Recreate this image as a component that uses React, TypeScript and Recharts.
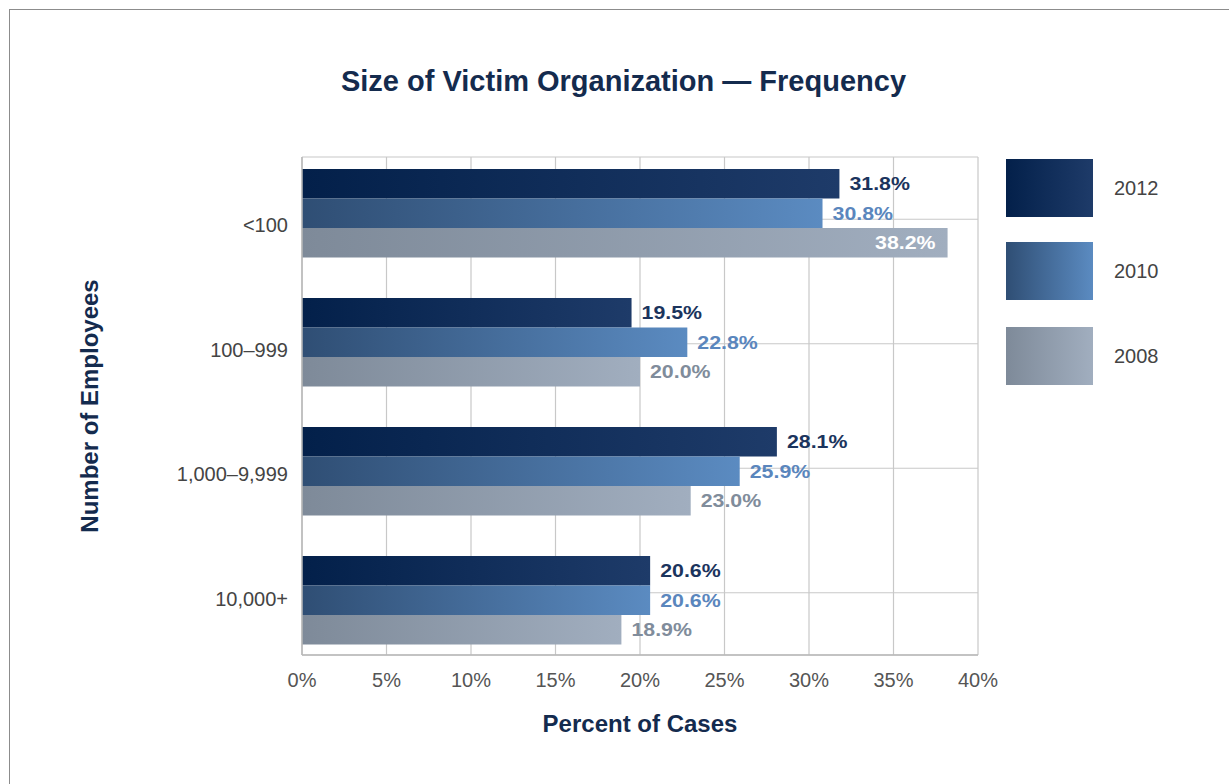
import React from 'react';
import { BarChart, Bar, XAxis, YAxis, CartesianGrid, LabelList, Legend } from 'recharts';

const categories = ['<100', '100–999', '1,000–9,999', '10,000+'];
const values2012 = [31.8, 19.5, 28.1, 20.6];
const values2010 = [30.8, 22.8, 25.9, 20.6];
const values2008 = [38.2, 20.0, 23.0, 18.9];
const xTicks = [0, 5, 10, 15, 20, 25, 30, 35, 40];

const data = categories.map((cat, i) => ({
  cat,
  y2012: values2012[i],
  y2010: values2010[i],
  y2008: values2008[i],
}));

const series = [
  { key: 'y2012', name: '2012', from: '#03204a', to: '#1e3b69', label: '#1b345d' },
  { key: 'y2010', name: '2010', from: '#2f4e74', to: '#5b8bc1', label: '#5a86bd' },
  { key: 'y2008', name: '2008', from: '#7e8a99', to: '#a1aebf', label: '#808c9b' },
];

const FONT = '"Liberation Sans", Arial, Helvetica, sans-serif';
const W = 1229;
const H = 784;
const MARGIN = { top: 157, right: 251, bottom: 0, left: 0 };
const Y_AXIS_W = 302;
const X_AXIS_H = 129;
const PLOT_RIGHT = W - MARGIN.right;

const makeLabel = (color: string) => (props: any) => {
  const { x, y, width, height, value } = props;
  const end = Number(x) + Number(width);
  const inside = end + 72 > PLOT_RIGHT;
  const tx = inside ? end - 12 : end + 10;
  const ty = Number(y) + Number(height) / 2;
  return (
    <text
      x={0}
      y={0}
      transform={`translate(${tx} ${ty}) scale(1.22 1)`}
      dominantBaseline="central"
      textAnchor={inside ? 'end' : 'start'}
      fill={inside ? '#ffffff' : color}
      fontSize={17.5}
      fontWeight={700}
      fontFamily={FONT}
    >
      {Number(value).toFixed(1)}%
    </text>
  );
};

const YTick = (props: any) => {
  const { x, y, payload } = props;
  return (
    <text x={x} y={y} dy={6} textAnchor="end" dominantBaseline="central" fontSize={20} fill="#444" fontFamily={FONT}>
      {payload.value}
    </text>
  );
};

const YTitle = (props: any) => {
  const vb = props.viewBox || {};
  const cx = Number(vb.x) + 89;
  const cy = Number(vb.y) + Number(vb.height) / 2;
  return (
    <text
      x={cx}
      y={cy}
      transform={`rotate(-90 ${cx} ${cy})`}
      textAnchor="middle"
      dominantBaseline="central"
      fontSize={24}
      fontWeight={700}
      fill="#142b4e"
      fontFamily={FONT}
    >
      Number of Employees
    </text>
  );
};

const XTitle = (props: any) => {
  const vb = props.viewBox || {};
  const cx = Number(vb.x) + Number(vb.width) / 2;
  const cy = Number(vb.y) + 68;
  return (
    <text x={cx} y={cy} textAnchor="middle" dominantBaseline="central" fontSize={24} fontWeight={700} fill="#142b4e" fontFamily={FONT}>
      Percent of Cases
    </text>
  );
};

const renderLegend = () => (
  <div style={{ display: 'flex', flexDirection: 'column' }}>
    {series.map((s, i) => (
      <div key={s.key} style={{ display: 'flex', alignItems: 'center', marginBottom: i === 0 ? 25 : 27 }}>
        <div style={{ width: 87, height: 58, background: `linear-gradient(to right, ${s.from}, ${s.to})` }} />
        <span style={{ marginLeft: 21, fontSize: 20, color: '#444', fontFamily: FONT }}>{s.name}</span>
      </div>
    ))}
  </div>
);

export default function App() {
  return (
    <div style={{ position: 'absolute', left: 0, top: 0, width: W, height: H, overflow: 'hidden', background: '#fff', fontFamily: FONT }}>
      <div style={{ position: 'absolute', left: 9, top: 9, width: W, height: H, borderLeft: '1.5px solid #8c8c8c', borderTop: '1.5px solid #8c8c8c' }} />
      <div
        style={{
          position: 'absolute',
          left: 0,
          top: 67,
          width: 1247,
          textAlign: 'center',
          fontSize: 29,
          lineHeight: '29px',
          fontWeight: 700,
          color: '#142b4e',
          whiteSpace: 'nowrap',
          fontFamily: FONT,
        }}
      >
        Size of Victim Organization — Frequency
      </div>
      <div style={{ position: 'absolute', left: 0, top: 0 }}>
        <BarChart width={W} height={H} data={data} layout="vertical" margin={MARGIN} barGap={0} barSize={29.5}>
          <defs>
            {series.map((s) => (
              <linearGradient key={s.key} id={`grad-${s.key}`} x1="0" y1="0" x2="1" y2="0">
                <stop offset="0%" stopColor={s.from} />
                <stop offset="100%" stopColor={s.to} />
              </linearGradient>
            ))}
          </defs>
          <CartesianGrid stroke="#c8c8c8" strokeWidth={1.2} />
          <XAxis
            type="number"
            domain={[0, 40]}
            ticks={xTicks}
            tickFormatter={(v: number) => `${v}%`}
            tickSize={0}
            tickMargin={18}
            height={X_AXIS_H}
            axisLine={{ stroke: '#b8b8b8', strokeWidth: 1.5 }}
            tick={{ fontSize: 20, fill: '#555', fontFamily: FONT }}
            label={<XTitle />}
          />
          <XAxis
            xAxisId="top"
            orientation="top"
            type="number"
            domain={[0, 40]}
            tick={false}
            tickLine={false}
            height={0}
            axisLine={{ stroke: '#c8c8c8', strokeWidth: 1.5 }}
          />
          <YAxis
            type="category"
            dataKey="cat"
            width={Y_AXIS_W}
            tickSize={0}
            tickMargin={14}
            axisLine={{ stroke: '#b8b8b8', strokeWidth: 1.5 }}
            tick={<YTick />}
            label={<YTitle />}
          />
          <YAxis yAxisId="bars" type="category" dataKey="cat" hide padding={{ top: -8, bottom: -10 }} />
          <Legend
            layout="vertical"
            align="center"
            verticalAlign="middle"
            content={renderLegend}
            wrapperStyle={{ position: 'absolute', left: 1006, top: 159, width: 200, height: 'auto' }}
          />
          {series.map((s) => (
            <Bar
              key={s.key}
              dataKey={s.key}
              name={s.name}
              yAxisId="bars"
              fill={`url(#grad-${s.key})`}
              isAnimationActive={false}
            >
              <LabelList dataKey={s.key} content={makeLabel(s.label)} />
            </Bar>
          ))}
        </BarChart>
      </div>
    </div>
  );
}
